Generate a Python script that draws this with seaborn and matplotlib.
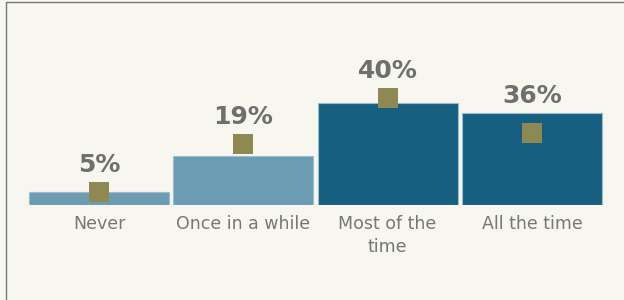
import seaborn as sns
import pandas as pd
import matplotlib.pyplot as plt
from matplotlib.lines import Line2D

# data
categories = ['Never', 'Once in a while', 'Most of the\ntime', 'All the time']
shares = [5, 19, 40, 36]
comparison = [5, 24, 42, 28]
bar_colors = ['#6c9cb4', '#6c9cb4', '#175f80', '#175f80']

bg = '#f7f6ef'
df = pd.DataFrame({'answer': categories, 'share': shares, 'comp': comparison})

sns.set_style('white')
plt.rcParams['font.family'] = ['DejaVu Sans']

fig = plt.figure(figsize=(6.24, 3.0), dpi=100, facecolor=bg)
ax = fig.add_axes([27 / 624, 95 / 300, 577 / 624, 185 / 300])
ax.set_facecolor(bg)

#bars
sns.barplot(data=df, x='answer', y='share', hue='answer', palette=bar_colors, saturation=1,
            legend=False, width=0.97, edgecolor='#9dbccc', linewidth=0.8, ax=ax)

#square markers for the comparison values
sns.pointplot(data=df, x='answer', y='comp', linestyle='none', markers='s',
              color='#8e8953', markersize=14, markeredgewidth=0, errorbar=None, ax=ax)

ax.set_xlim(-0.5, 3.5)
ax.set_ylim(0, 72.3)

#value labels above the bar or the marker, whichever is higher
for i, (b, c) in enumerate(zip(shares, comparison)):
    if b > c + 3.9:
        xy, off = (i, b), 7.2
    else:
        xy, off = (i, c), 14.4
    ax.annotate(f'{b}%', xy=xy, xytext=(0, off), textcoords='offset points',
                ha='center', va='baseline', fontsize=18, fontweight='bold', color='#6f6f6f')

ax.set_xlabel('')
ax.set_ylabel('')
ax.set_yticks([])
ax.tick_params(axis='x', length=0, pad=7.5, labelsize=12.5, labelcolor='#777777')
for lbl in ax.get_xticklabels():
    lbl.set_linespacing(1.35)
sns.despine(ax=ax, left=True, bottom=True)

#frame lines on left and top
fig.add_artist(Line2D([5.5 / 624, 5.5 / 624], [0, 1 - 1.5 / 300], transform=fig.transFigure, color='#777777', lw=1))
fig.add_artist(Line2D([5.5 / 624, 1], [1 - 1.5 / 300, 1 - 1.5 / 300], transform=fig.transFigure, color='#777777', lw=1))

fig.savefig('out.png', dpi=100, facecolor=bg)
